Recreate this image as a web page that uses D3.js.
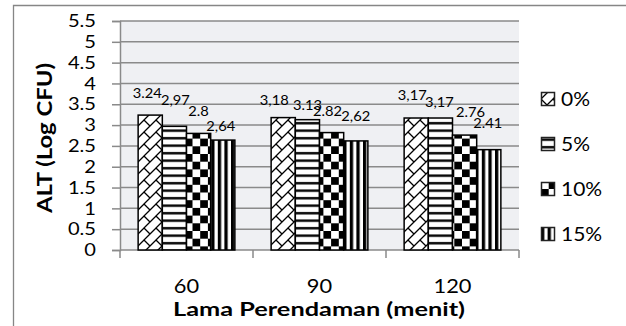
<!DOCTYPE html>
<html>
<head>
<meta charset="utf-8">
<script src="https://cdn.jsdelivr.net/npm/d3@7"></script>
<style>
  html, body { margin: 0; padding: 0; background: #fff; }
  svg { display: block; }
  text { font-family: Lato, "Open Sans", sans-serif; fill: #000; }
</style>
</head>
<body>
<svg id="chart" width="626" height="326"></svg>
<script>
// ---- data ----
const categories = ["60", "90", "120"];
const seriesNames = ["0%", "5%", "10%", "15%"];
const values0 = [3.24, 3.18, 3.17];
const values5 = [2.97, 3.13, 3.17];
const values10 = [2.80, 2.82, 2.76];
const values15 = [2.64, 2.62, 2.41];
const labels0 = ["3.24", "3,18", "3,17"];
const labels5 = ["2,97", "3.13", "3,17"];
const labels10 = ["2.8", "2.82", "2.76"];
const labels15 = ["2,64", "2,62", "2.41"];
const yTicks = [0, 0.5, 1, 1.5, 2, 2.5, 3, 3.5, 4, 4.5, 5, 5.5];
const xTitle = "Lama Perendaman (menit)";
const yTitle = "ALT (Log CFU)";

// ---- layout (label nudges in px, manual placement as in the original) ----
const labelDx = [[-3, 1, 0, -2], [-9, 0, -4, 0], [-4, -1, 6, -1]];
const labelDy = [[-17, -21, -17.5, -9], [-12.5, -10, -17, -20], [-18, -11, -18, -22]];

const seriesValues = [values0, values5, values10, values15];
const seriesLabels = [labels0, labels5, labels10, labels15];
const patterns = ["pDiag", "pHoriz", "pCheck", "pVert"];

const svg = d3.select("#chart");
const M = { left: 120, right: 519, top: 21, bottom: 250 };

// helper: text with horizontal stretch (to mimic the wide Calibri rendering)
function stretchedText(parent, x, y, str, size, sx, anchor, weight) {
  const g = parent.append("g").attr("transform", `translate(${x},${y}) scale(${sx},1)`);
  g.append("text").attr("text-anchor", anchor || "start").attr("font-size", size)
    .attr("font-weight", weight || "normal").text(str);
  return g;
}

// patterns
const defs = svg.append("defs");
{
  const p = defs.append("pattern").attr("id", "pDiag").attr("patternUnits", "userSpaceOnUse")
    .attr("width", 12).attr("height", 12);
  p.append("rect").attr("width", 12).attr("height", 12).attr("fill", "#fff");
  p.append("path").attr("d", "M-1,13 L13,-1 M0,0 L6,6 M6,18 L18,6")
    .attr("stroke", "#000").attr("stroke-width", 1.3).attr("fill", "none");
}
{
  const p = defs.append("pattern").attr("id", "pHoriz").attr("patternUnits", "userSpaceOnUse")
    .attr("width", 8).attr("height", 7.5);
  p.append("rect").attr("width", 8).attr("height", 7.5).attr("fill", "#fff");
  p.append("rect").attr("y", 2).attr("width", 8).attr("height", 2.4).attr("fill", "#000");
}
{
  const s = 7.7;
  const p = defs.append("pattern").attr("id", "pCheck").attr("patternUnits", "userSpaceOnUse")
    .attr("width", 2 * s).attr("height", 2 * s);
  p.append("rect").attr("width", 2 * s).attr("height", 2 * s).attr("fill", "#fff");
  p.append("rect").attr("width", s).attr("height", s).attr("fill", "#000");
  p.append("rect").attr("x", s).attr("y", s).attr("width", s).attr("height", s).attr("fill", "#000");
}
{
  const p = defs.append("pattern").attr("id", "pVert").attr("patternUnits", "userSpaceOnUse")
    .attr("width", 6.6).attr("height", 8);
  p.append("rect").attr("width", 6.6).attr("height", 8).attr("fill", "#fff");
  p.append("rect").attr("x", 0).attr("width", 3.3).attr("height", 8).attr("fill", "#000");
}

// outer frame
svg.append("path").attr("d", "M13.5,330 L13.5,5.5 L626,5.5")
  .attr("fill", "none").attr("stroke", "#868686").attr("stroke-width", 1.3);

// scales
const x = d3.scaleBand().domain(categories).range([M.left, M.right]).padding(0);
const xs = d3.scaleBand().domain(seriesNames).range([0, x.bandwidth()]).paddingInner(0).paddingOuter(0.75);
const y = d3.scaleLinear().domain([0, 5.5]).range([M.bottom, M.top]);

// plot background
svg.append("rect").attr("x", M.left).attr("y", M.top)
  .attr("width", M.right - M.left).attr("height", M.bottom - M.top).attr("fill", "#eff0f3");

// gridlines + y axis
const yAxis = d3.axisLeft(y).tickValues(yTicks).tickSize(8).tickFormat(() => "");
const gy = svg.append("g").attr("transform", `translate(${M.left},0)`).call(yAxis);
gy.select(".domain").attr("stroke", "#8a8a8a").attr("stroke-width", 1.5);
gy.selectAll(".tick line").attr("stroke", "#8a8a8a").attr("stroke-width", 1.5);
const yLabG = svg.append("g");
yTicks.forEach(t => stretchedText(yLabG, 96, y(t) + 6.2, String(t), 17.2, 1.17, "end"));

svg.append("g").selectAll("line").data(yTicks.filter(d => d > 0)).join("line")
  .attr("x1", M.left).attr("x2", M.right)
  .attr("y1", d => y(d)).attr("y2", d => y(d))
  .attr("stroke", "#8a8a8a").attr("stroke-width", 1.5);

// x axis
const xEdges = [M.left].concat(categories.map(c => x(c) + x.bandwidth()));
svg.append("line").attr("x1", M.left).attr("x2", M.right).attr("y1", M.bottom).attr("y2", M.bottom)
  .attr("stroke", "#8a8a8a").attr("stroke-width", 1.5);
svg.append("g").selectAll("line").data(xEdges).join("line")
  .attr("x1", d => d).attr("x2", d => d).attr("y1", M.bottom).attr("y2", M.bottom + 8)
  .attr("stroke", "#8a8a8a").attr("stroke-width", 1.5);
const xLabG = svg.append("g");
categories.forEach(c => stretchedText(xLabG, x(c) + x.bandwidth() / 2, 293, c, 18.5, 1.18, "middle"));

// bars
const flat = [];
categories.forEach((c, ci) => seriesNames.forEach((s, si) => {
  flat.push({ c, ci, s, si, v: seriesValues[si][ci], label: seriesLabels[si][ci] });
}));
svg.append("g").selectAll("rect").data(flat).join("rect")
  .attr("x", d => x(d.c) + xs(d.s))
  .attr("y", d => y(d.v))
  .attr("width", xs.bandwidth())
  .attr("height", d => y(0) - y(d.v))
  .attr("fill", d => `url(#${patterns[d.si]})`)
  .attr("stroke", "#000").attr("stroke-width", 1.5);

// data labels
const dlG = svg.append("g");
flat.forEach(d => stretchedText(dlG,
  x(d.c) + xs(d.s) + xs.bandwidth() / 2 + labelDx[d.ci][d.si],
  y(d.v) + labelDy[d.ci][d.si], d.label, 14, 1.05, "middle"));

// axis titles
svg.append("text").attr("x", 319).attr("y", 316).attr("text-anchor", "middle")
  .attr("font-size", 19.5).attr("font-weight", "bold")
  .attr("textLength", 292).attr("lengthAdjust", "spacingAndGlyphs").text(xTitle);
svg.append("text").attr("transform", "translate(52,138) rotate(-90)").attr("text-anchor", "middle")
  .attr("font-size", 21).attr("font-weight", "bold")
  .attr("textLength", 150).attr("lengthAdjust", "spacingAndGlyphs").text(yTitle);

// legend
const legendY = [99, 144, 189, 234];
const lg = svg.append("g").selectAll("g").data(seriesNames).join("g")
  .attr("transform", (d, i) => `translate(541,${legendY[i]})`);
lg.append("rect").attr("x", 0.5).attr("y", -6.5).attr("width", 13).attr("height", 13)
  .attr("fill", (d, i) => `url(#${patterns[i]})`).attr("stroke", "#222").attr("stroke-width", 1.5);
lg.each(function (d) { stretchedText(d3.select(this), 20, 7.2, d, 20, 1.05, "start"); });
</script>
</body>
</html>
